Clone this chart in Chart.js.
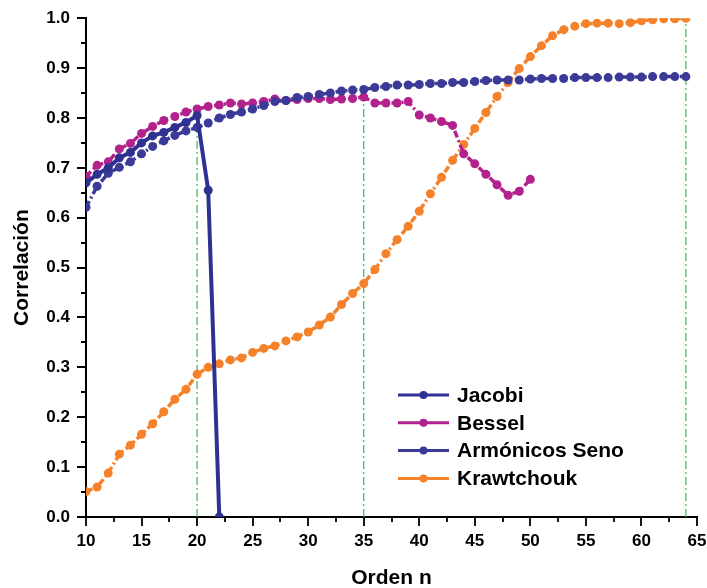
<!DOCTYPE html>
<html lang="es">
<head>
<meta charset="UTF-8">
<title>Correlación vs Orden n</title>
<script src="https://cdn.jsdelivr.net/npm/chart.js@4"></script>
<style>
  html, body { margin: 0; padding: 0; background: #fff; }
  #chart { display: block; }
</style>
</head>
<body>
<canvas id="chart" width="707" height="588"></canvas>
<script>
// orden n (eje x)
const orden = [10, 11, 12, 13, 14, 15, 16, 17, 18, 19, 20, 21, 22, 23, 24, 25, 26, 27, 28, 29,
               30, 31, 32, 33, 34, 35, 36, 37, 38, 39, 40, 41, 42, 43, 44, 45, 46, 47, 48, 49,
               50, 51, 52, 53, 54, 55, 56, 57, 58, 59, 60, 61, 62, 63, 64];

// correlacion por familia de momentos
const jacobi = [0.670, 0.687, 0.700, 0.720, 0.731, 0.750, 0.764, 0.771, 0.781, 0.791,
                0.805, 0.655, 0.000];
const bessel = [0.683, 0.705, 0.712, 0.738, 0.749, 0.769, 0.783, 0.795, 0.803, 0.812,
                0.818, 0.823, 0.826, 0.830, 0.828, 0.830, 0.833, 0.838, 0.835, 0.837,
                0.839, 0.839, 0.837, 0.838, 0.839, 0.842, 0.830, 0.830, 0.830, 0.833,
                0.806, 0.800, 0.793, 0.785, 0.728, 0.708, 0.687, 0.666, 0.645, 0.653, 0.677];
const armonicos = [0.621, 0.663, 0.689, 0.701, 0.712, 0.728, 0.743, 0.754, 0.765, 0.774,
                   0.781, 0.790, 0.800, 0.807, 0.812, 0.818, 0.825, 0.833, 0.835, 0.841,
                   0.843, 0.847, 0.850, 0.854, 0.856, 0.857, 0.861, 0.863, 0.866, 0.866,
                   0.867, 0.869, 0.869, 0.871, 0.871, 0.873, 0.875, 0.876, 0.876, 0.876,
                   0.878, 0.879, 0.879, 0.879, 0.881, 0.881, 0.881, 0.881, 0.882, 0.882,
                   0.882, 0.883, 0.883, 0.883, 0.883];
const krawtchouk = [0.051, 0.060, 0.088, 0.126, 0.144, 0.166, 0.187, 0.211, 0.236, 0.256,
                    0.286, 0.300, 0.307, 0.315, 0.319, 0.330, 0.338, 0.343, 0.353, 0.361,
                    0.371, 0.385, 0.401, 0.426, 0.448, 0.468, 0.496, 0.528, 0.556, 0.583,
                    0.613, 0.648, 0.681, 0.715, 0.747, 0.779, 0.811, 0.843, 0.871, 0.899,
                    0.923, 0.945, 0.965, 0.977, 0.984, 0.989, 0.990, 0.990, 0.989, 0.991,
                    0.995, 0.997, 0.999, 0.999, 1.000];

// lineas verticales de referencia (verde)
const dropOrden = [20, 35, 64];
const dropTop = [0.805, 0.842, 1.000];

const FONT = "'Liberation Sans', Arial, sans-serif";

function pts(ys) {
  return ys.map((v, i) => ({ x: orden[i], y: v }));
}

function serie(label, ys, color, dash, order) {
  return {
    label: label,
    data: pts(ys),
    borderColor: color,
    backgroundColor: color,
    pointBackgroundColor: color,
    pointBorderWidth: 0,
    pointRadius: 4.5,
    borderWidth: dash.length ? 3.5 : 4,
    borderDash: dash,
    tension: 0,
    order: order
  };
}

const datasets = [
  serie('Jacobi', jacobi, '#2e3192', [], 1),
  serie('Bessel', bessel, '#b3228c', [7, 3, 2, 3], 3),
  serie('Armónicos Seno', armonicos, '#3c3a98', [7, 3, 2, 3], 2),
  serie('Krawtchouk', krawtchouk, '#f5822b', [7, 3, 2, 3], 4)
];

dropOrden.forEach((n, i) => {
  datasets.push({
    label: '_drop',
    data: [{ x: n, y: 0 }, { x: n, y: dropTop[i] }],
    borderColor: '#3cb54a',
    borderWidth: 1.2,
    borderDash: [8, 3, 2, 3],
    pointRadius: 0,
    order: 10
  });
});

// marcas de eje (mayores y menores)
const axisTicks = {
  id: 'axisTicks',
  afterDraw(chart) {
    const { ctx, chartArea, scales: { x, y } } = chart;
    ctx.save();
    ctx.strokeStyle = '#000';
    ctx.lineWidth = 1.8;
    ctx.beginPath();
    x.ticks.forEach(t => {
      const px = Math.round(x.getPixelForValue(t.value));
      const len = t.label ? 9 : 5;
      ctx.moveTo(px, chartArea.bottom);
      ctx.lineTo(px, chartArea.bottom + len);
    });
    y.ticks.forEach(t => {
      const py = Math.round(y.getPixelForValue(t.value));
      const len = t.label ? 9 : 5;
      ctx.moveTo(chartArea.left, py);
      ctx.lineTo(chartArea.left - len, py);
    });
    ctx.stroke();
    ctx.restore();
  }
};

// leyenda dentro del area del grafico
const boxLegend = {
  id: 'boxLegend',
  afterDraw(chart) {
    const { ctx } = chart;
    const items = chart.data.datasets.filter(d => d.label !== '_drop');
    ctx.save();
    ctx.font = 'bold 21px ' + FONT;
    ctx.textBaseline = 'middle';
    items.forEach((d, i) => {
      const yy = 395 + i * 27.8;
      ctx.strokeStyle = d.borderColor;
      ctx.lineWidth = 3;
      ctx.setLineDash([]);
      ctx.beginPath();
      ctx.moveTo(398, yy);
      ctx.lineTo(449, yy);
      ctx.stroke();
      ctx.fillStyle = d.borderColor;
      ctx.beginPath();
      ctx.arc(423.5, yy, 4, 0, Math.PI * 2);
      ctx.fill();
      ctx.fillStyle = '#000';
      ctx.fillText(d.label, 457, yy + 1);
    });
    ctx.restore();
  }
};

new Chart(document.getElementById('chart').getContext('2d'), {
  type: 'line',
  data: { datasets: datasets },
  plugins: [axisTicks, boxLegend],
  options: {
    responsive: false,
    animation: false,
    layout: { padding: { top: 9, right: 0, left: 0, bottom: 0 } },
    plugins: {
      legend: { display: false },
      tooltip: { enabled: false }
    },
    scales: {
      x: {
        type: 'linear',
        min: 10,
        max: 65,
        grid: { display: false },
        border: { display: true, color: '#000', width: 2 },
        afterFit: s => { s.height = 71; s.paddingRight = 10; },
        ticks: {
          stepSize: 2.5,
          autoSkip: false,
          maxRotation: 0,
          padding: 6,
          color: '#000',
          font: { family: FONT, size: 17, weight: 'bold' },
          callback: v => (Math.round(v * 10) % 50 === 0 ? String(v) : '')
        },
        title: {
          display: true,
          text: 'Orden n',
          color: '#000',
          font: { family: FONT, size: 21, weight: 'bold' },
          padding: { top: 0, bottom: -3 }
        }
      },
      y: {
        min: 0,
        max: 1,
        grid: { display: false },
        border: { display: true, color: '#000', width: 2 },
        afterFit: s => { s.width = 86; },
        ticks: {
          stepSize: 0.05,
          autoSkip: false,
          padding: 8,
          color: '#000',
          font: { family: FONT, size: 17, weight: 'bold' },
          callback: v => (Math.round(v * 100) % 10 === 0 ? v.toFixed(1) : '')
        },
        title: {
          display: true,
          text: 'Correlación',
          color: '#000',
          font: { family: FONT, size: 21, weight: 'bold' },
          padding: { top: 10, bottom: 0 }
        }
      }
    }
  }
});
</script>
</body>
</html>
